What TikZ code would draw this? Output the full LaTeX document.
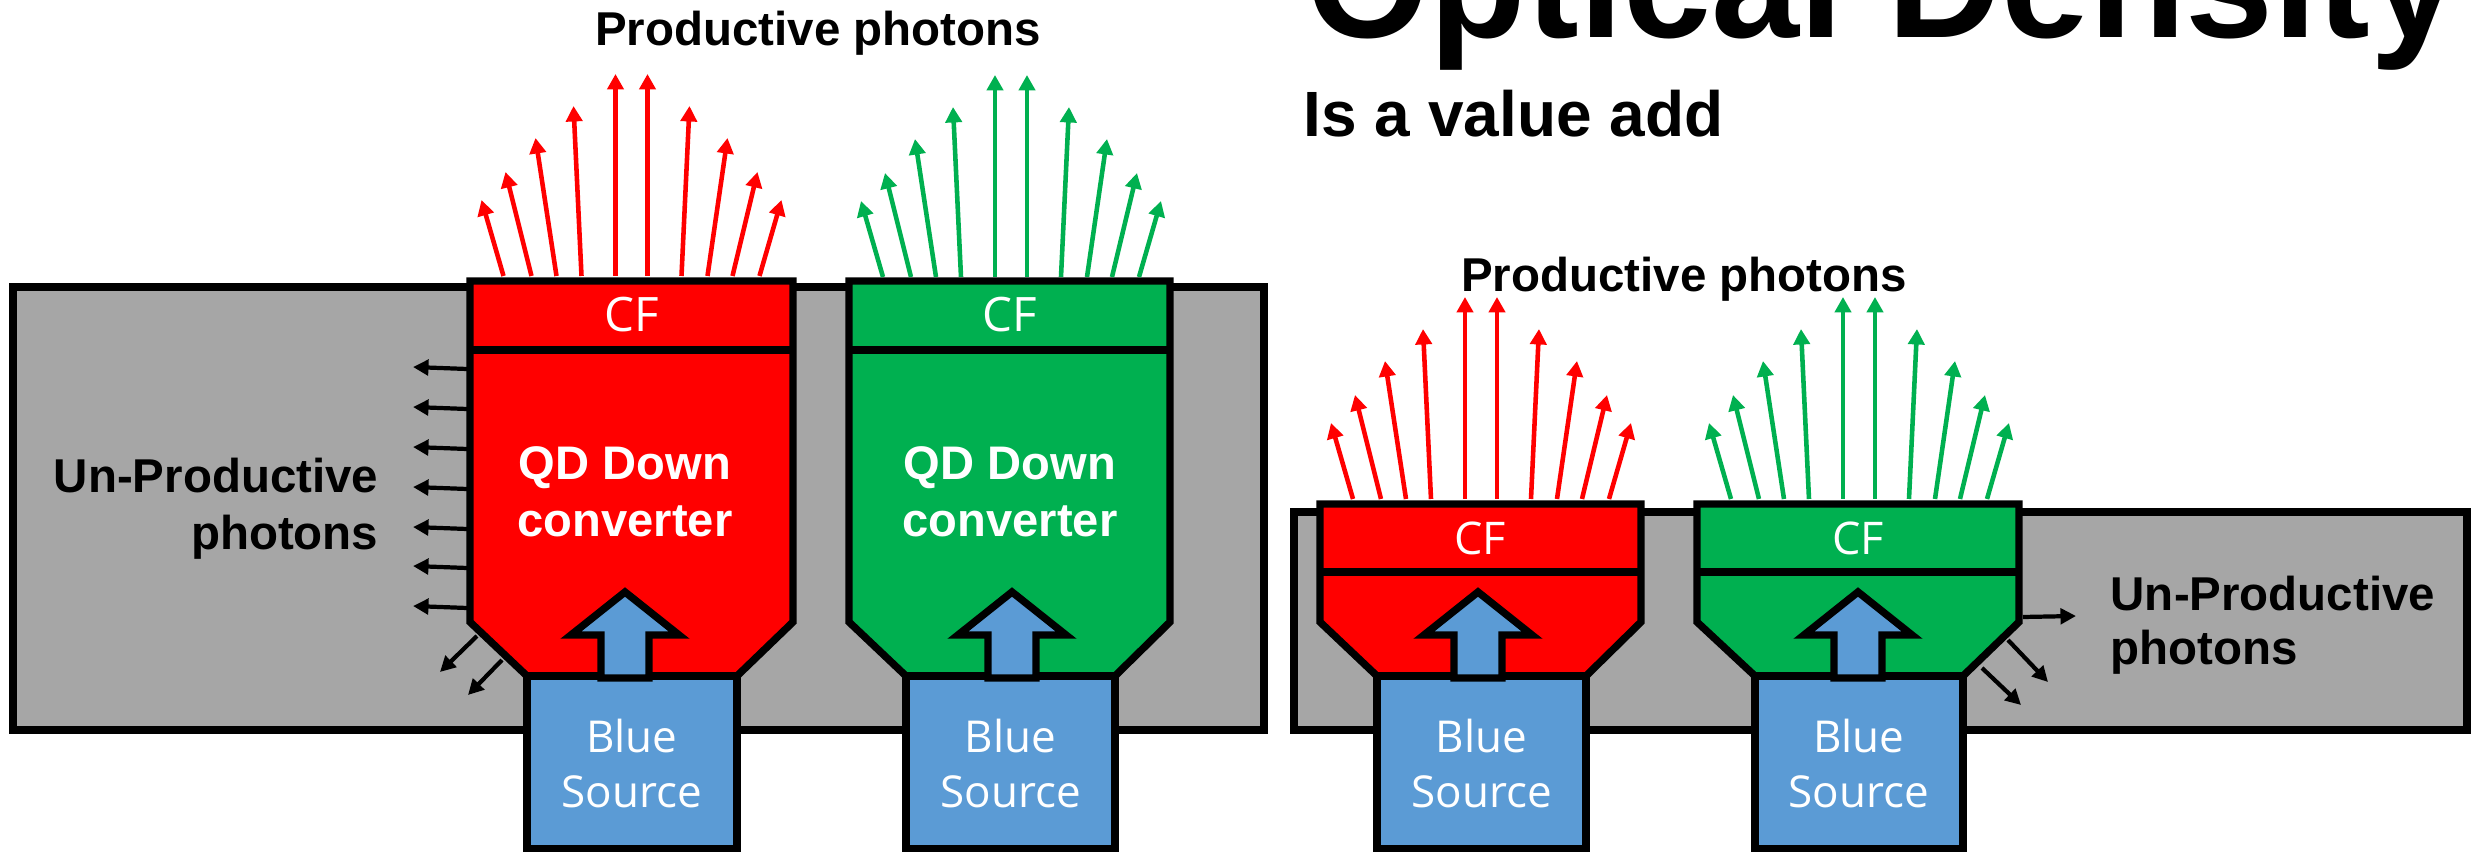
\documentclass[tikz,border=0pt]{standalone}
\usepackage{fontspec}
\usepackage{tikz}
\usetikzlibrary{arrows.meta, positioning}
\setmainfont{Liberation Sans}
\newfontfamily\segoe{Open Sans}
\definecolor{cfred}{HTML}{FF0000}
\definecolor{cfgreen}{HTML}{00B050}
\definecolor{sourceblue}{HTML}{5B9BD5}
\definecolor{panelgray}{HTML}{A6A6A6}
\tikzstyle{panel} = [draw=black, line width=2.1pt, fill=panelgray]
\tikzstyle{outline} = [draw=black, line width=2.1pt, line join=miter]
\tikzstyle{photon} = [line width=1.3pt, -{Triangle[length=4.4pt, width=4.6pt]}]
\tikzstyle{lost} = [line width=1.2pt, -{Triangle[length=4.4pt, width=4.4pt]}]
\tikzstyle{caption} = [font=\fontsize{13.5}{16.2}\selectfont\bfseries, inner sep=0pt]
\tikzstyle{cftext} = [text=white, font=\segoe\fontsize{13.5}{16}\selectfont, inner sep=0pt]
\tikzstyle{qdtext} = [text=white, align=center, font=\fontsize{13.4}{16.2}\selectfont\bfseries, inner sep=0pt]
\tikzstyle{srctext} = [text=white, align=center, font=\segoe\fontsize{12.5}{15.9}\selectfont, inner sep=0pt]

\begin{document}
\begin{tikzpicture}[x=0.01cm, y=-0.01cm]
    \useasboundingbox (0,0) rectangle (2471,852);
    \draw[panel] (13,287) rectangle (1264,730);
    \draw[panel] (1294,512) rectangle (2467,730);

    \foreach \xl/\xr/\yt/\yc/\sl/\sr/\ax/\col in {470/793/281/350/527/737/625/cfred, 849/1170/281/350/906/1115/1012/cfgreen, 1320/1641/504/572/1377/1586/1478/cfred, 1697/2019/504/572/1755/1963/1858/cfgreen} {
        \draw[outline, fill=\col] (\xl,\yt) -- (\xr,\yt) -- (\xr,622) -- (\sr,676) -- (\sl,676) -- (\xl,622) -- cycle;
        \draw[outline] (\xl,\yc) -- (\xr,\yc);
        \draw[outline, fill=sourceblue] (\sl,676) rectangle (\sr,849);
        \draw[outline, fill=sourceblue] (\ax,592) -- (\ax+54,635) -- (\ax+24,635) -- (\ax+24,678) -- (\ax-24,678) -- (\ax-24,635) -- (\ax-54,635) -- cycle;
    }

    \foreach \cx/\by/\col in {631.5/276/cfred, 1011/277/cfgreen, 1481/499/cfred, 1859/499/cfgreen}
        \foreach \bx/\tx/\ty in {-128/-150/76, -100/-126/104, -75/-96/138, -50/-58/170, -16/-16/202, 16/16/202, 50/58/170, 76/96/138, 101/126/104, 128/150/76}
            \draw[photon, \col] (\cx+\bx,\by) -- (\cx+\tx,\by-\ty);

    \foreach \y in {367,407,447,487,527,566,606}
        \draw[lost] (467,\y+2) -- (413,\y);
    \draw[lost] (477,636) -- (440,672);
    \draw[lost] (502,660) -- (468,695);
    \draw[lost] (2023,617) -- (2076,616);
    \draw[lost] (2008,640) -- (2048,682);
    \draw[lost] (1982,668) -- (2021,705);

    \node[anchor=base west, inner sep=0pt, font=\fontsize{45}{50}\selectfont\bfseries] (title) at (1306,38) {Optical Density};
    \node[anchor=base west, inner sep=0pt, font=\fontsize{18.2}{22}\selectfont\bfseries] (subtitle) at (1303,137) {Is a value add};
    \node[caption, anchor=base] (prodleft) at (818,46) {Productive photons};
    \node[caption, anchor=base] (prodright) at (1684,292) {Productive photons};
    \node[caption, anchor=east, align=right] (lostleft) at (379,509) {Un-Productive\\photons};
    \node[caption, anchor=west, align=left, font=\fontsize{13.5}{15.4}\selectfont\bfseries] (lostright) at (2110,625.5) {Un-Productive\\photons};

    \node[cftext] (cfleftred) at (631.5,315) {CF};
    \node[cftext] (cfleftgreen) at (1010,315) {CF};
    \node[cftext, font=\segoe\fontsize{12.8}{16}\selectfont] (cfrightred) at (1480,538) {CF};
    \node[cftext, font=\segoe\fontsize{12.8}{16}\selectfont] (cfrightgreen) at (1858,538) {CF};
    \node[qdtext] (qdred) at (625,492) {QD Down\\converter};
    \node[qdtext] (qdgreen) at (1010,492) {QD Down\\converter};
    \node[srctext] (srcleftred) at (632,763.5) {Blue\\Source};
    \node[srctext] (srcleftgreen) at (1010.5,763.5) {Blue\\Source};
    \node[srctext] (srcrightred) at (1481.5,763.5) {Blue\\Source};
    \node[srctext] (srcrightgreen) at (1859,763.5) {Blue\\Source};
\end{tikzpicture}
\end{document}
